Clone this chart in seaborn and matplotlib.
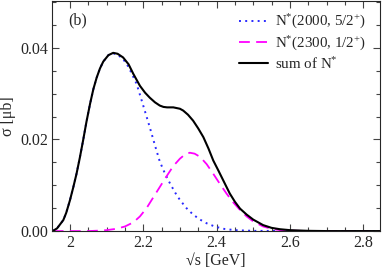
import numpy as np
import pandas as pd
import matplotlib
matplotlib.use("Agg")
import matplotlib.pyplot as plt
from matplotlib.ticker import MultipleLocator, FormatStrFormatter
import seaborn as sns

# ---- data ----
x_sum = [1.953, 1.965, 1.982, 1.99, 2.0, 2.009, 2.018, 2.027, 2.036, 2.045, 2.055, 2.064,
         2.073, 2.082, 2.091, 2.105, 2.118, 2.13, 2.145, 2.16, 2.173, 2.191, 2.205, 2.218,
         2.232, 2.245, 2.255, 2.265, 2.282, 2.30, 2.309, 2.322, 2.336, 2.35, 2.364, 2.378,
         2.391, 2.405, 2.418, 2.436, 2.45, 2.464, 2.482, 2.50, 2.527, 2.55, 2.573, 2.6,
         2.65, 2.7, 2.85]
y_sum = [0.0, 0.0006, 0.0024, 0.0040, 0.0067, 0.0095, 0.0125, 0.0160, 0.0198, 0.0238, 0.0278,
         0.0310, 0.0335, 0.0355, 0.0370, 0.0384, 0.0389, 0.0387, 0.0379, 0.0364, 0.0343,
         0.0317, 0.0302, 0.0291, 0.0281, 0.0274, 0.0271, 0.0270, 0.0270, 0.0267, 0.0263,
         0.0254, 0.0241, 0.0224, 0.0205, 0.0180, 0.0154, 0.0132, 0.0111, 0.0082, 0.0064,
         0.0049, 0.0036, 0.0025, 0.0013, 0.0007, 0.0004, 0.0002, 0.00005, 0.0, 0.0]

x_n2000 = [1.953, 1.965, 1.982, 1.99, 2.0, 2.009, 2.018, 2.027, 2.036, 2.045, 2.055, 2.064,
           2.073, 2.082, 2.091, 2.105, 2.118, 2.13, 2.143, 2.155, 2.168, 2.182, 2.195, 2.209,
           2.218, 2.232, 2.245, 2.259, 2.273, 2.287, 2.30, 2.318, 2.336, 2.355, 2.373, 2.395,
           2.418, 2.45, 2.5, 2.6, 2.85]
y_n2000 = [0.0, 0.0006, 0.0024, 0.0040, 0.0067, 0.0095, 0.0125, 0.0160, 0.0198, 0.0238, 0.0278,
           0.0310, 0.0335, 0.0355, 0.0370, 0.0384, 0.0388, 0.0385, 0.0377, 0.0365, 0.0345,
           0.0321, 0.0287, 0.0250, 0.0226, 0.0187, 0.0152, 0.0126, 0.0104, 0.0084, 0.0068,
           0.0050, 0.0036, 0.0025, 0.0017, 0.0010, 0.0005, 0.0002, 0.00005, 0.0, 0.0]

x_n2300 = [1.953, 2.05, 2.08, 2.10, 2.127, 2.15, 2.173, 2.191, 2.209, 2.227, 2.245, 2.264,
           2.282, 2.30, 2.315, 2.327, 2.340, 2.355, 2.373, 2.391, 2.409, 2.427, 2.445, 2.464,
           2.482, 2.50, 2.527, 2.55, 2.573, 2.6, 2.65, 2.85]
y_n2300 = [0.0, 0.0, 0.0001, 0.0002, 0.0005, 0.0010, 0.0019, 0.0032, 0.0050, 0.0073, 0.0096,
           0.0120, 0.0142, 0.0158, 0.0168, 0.0171, 0.0169, 0.0162, 0.0146, 0.0125, 0.0103,
           0.0082, 0.0063, 0.0046, 0.0032, 0.0021, 0.0010, 0.0005, 0.0002, 0.0001, 0.0, 0.0]

labels = [r"N$^{*}$(2000, 5/2$^{+}$)", r"N$^{*}$(2300, 1/2$^{+}$)", r"sum of N$^{*}$"]
x_ticks = [2.0, 2.2, 2.4, 2.6, 2.8]
y_ticks = [0.00, 0.02, 0.04]

# ---- style ----
sns.set_style("ticks")
plt.rcParams["font.family"] = ["Liberation Serif", "DejaVu Serif"]
plt.rcParams["mathtext.fontset"] = "custom"
plt.rcParams["mathtext.rm"] = "Liberation Serif"
plt.rcParams["mathtext.it"] = "Liberation Serif:italic"
plt.rcParams["font.size"] = 11

fig = plt.figure(figsize=(3.82, 2.69), dpi=100)
ax = fig.add_axes([0.136, 0.141, 0.859, 0.855])

df1 = pd.DataFrame({"x": x_n2000, "y": y_n2000})
df2 = pd.DataFrame({"x": x_n2300, "y": y_n2300})
df3 = pd.DataFrame({"x": x_sum, "y": y_sum})

sns.lineplot(data=df1, x="x", y="y", ax=ax, color="#2a2aff", lw=1.4,
             linestyle=(0, (1, 2.2)), label=labels[0])
sns.lineplot(data=df2, x="x", y="y", ax=ax, color="#ff00ff", lw=1.3,
             linestyle=(0, (6, 3.5)), label=labels[1])
sns.lineplot(data=df3, x="x", y="y", ax=ax, color="black", lw=1.5,
             label=labels[2])

ax.set_xlim(1.951, 2.846)
ax.set_ylim(0.0, 0.0502)
ax.set_xticks(x_ticks)
ax.set_yticks(y_ticks)
ax.xaxis.set_major_formatter(FormatStrFormatter("%g"))
ax.yaxis.set_major_formatter(FormatStrFormatter("%.2f"))
ax.xaxis.set_minor_locator(MultipleLocator(0.05))
ax.yaxis.set_minor_locator(MultipleLocator(0.005))
ax.tick_params(which="both", direction="in", top=True, right=True, labelsize=11.5,
               width=0.8, color="#444444")
ax.tick_params(which="major", length=5, pad=3)
ax.tick_params(which="minor", length=3)
for s in ax.spines.values():
    s.set_linewidth(0.8)

ax.set_xlabel("√s [GeV]", fontsize=11.5, labelpad=1)
ax.set_ylabel("σ [μb]", fontsize=11.5, labelpad=3)

ax.text(0.05, 0.915, "(b)", transform=ax.transAxes, fontsize=11.5, va="center")

leg = ax.legend(loc="upper right", frameon=False, fontsize=10.8, handlelength=1.9,
                handletextpad=0.5, labelspacing=0.22, borderaxespad=0.3,
                bbox_to_anchor=(0.99, 0.995))

fig.savefig("out.png", dpi=100)
